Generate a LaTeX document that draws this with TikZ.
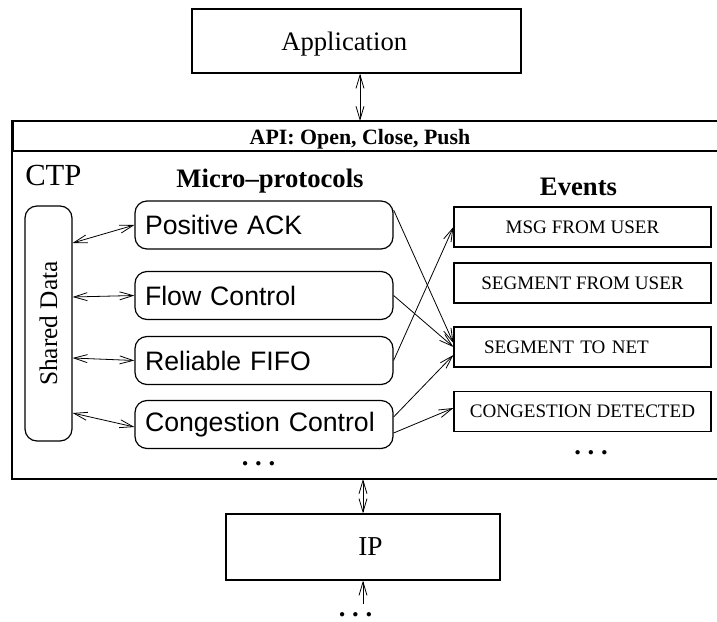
\documentclass[tikz,border=0pt]{standalone}
\usepackage{fontspec}
\setmainfont{Liberation Serif}
\newfontfamily\helv{Liberation Sans}
\usepackage{tikz}
\usetikzlibrary{arrows.meta,calc}
\usetikzlibrary{positioning}

\tikzset{
  plainbox/.style={draw, line width=1pt, inner sep=0pt},
  microbox/.style={draw, line width=0.9pt, rounded corners=9pt, minimum height=36pt,
    text width=178.5pt, align=left, inner xsep=7.5pt, inner ysep=0pt, font=\helv\fontsize{20}{24}\selectfont},
  eventbox/.style={draw, line width=0.9pt, minimum width=192.75pt, minimum height=30pt,
    inner sep=0pt, font=\fontsize{14.3}{16}\selectfont},
  dotsnode/.style={anchor=base, inner sep=0pt, font=\bfseries\fontsize{20}{24}\selectfont},
  biarrow/.style={line width=0.6pt, {Straight Barb[length=10pt,width=6pt]}-{Straight Barb[length=10pt,width=6pt]}},
  onearrow/.style={line width=0.6pt, -{Straight Barb[length=10pt,width=6pt]}},
}

\begin{document}
\begin{tikzpicture}[x=0.75pt,y=0.75pt,yscale=-1,xscale=1]
  \useasboundingbox (0,0) rectangle (717,621);
  \clip (0,0) rectangle (717,621);

  %Shape: Rectangle [CTP frame]
  \draw [line width=1.5pt] (12,121) rectangle (730,479);
  \draw [line width=1pt] (12,151) -- (730,151);
  \draw [line width=1pt] (13.5,121) -- (13.5,151);
  \coordinate (apitop) at (360,121);
  \coordinate (ctpbot) at (363,479);
  \coordinate (below) at (363,604);

  % Boxes
  \node [plainbox, minimum width=246.75pt, minimum height=48pt] (app) at (356.5,41) {};
  \node [plainbox, minimum width=205.5pt, minimum height=49.5pt] (ip) at (363,547) {};
  \node [draw, line width=0.9pt, rounded corners=9pt, minimum width=35.25pt, minimum height=176.25pt] (shared) at (48.5,323.5) {};

  \node [microbox] (ack) at (264,225) {Positive ACK};
  \node [microbox] (flow) at (264,295.5) {Flow Control};
  \node [microbox] (fifo) at (264,360.5) {Reliable FIFO};
  \node [microbox] (cong) at (264,424.5) {Congestion Control};

  \node [eventbox] (msg) at (582.5,227) {MSG FROM USER};
  \node [eventbox] (segu) at (582.5,283) {SEGMENT FROM USER};
  \node [eventbox, text width=147.75pt, align=left, inner xsep=22.5pt] (segn) at (582.5,347) {SEGMENT TO NET};
  \node [eventbox] (congd) at (582.5,411.5) {CONGESTION DETECTED};

  % Text Node
  \node [anchor=base west, inner sep=0pt, font=\fontsize{20}{24}\selectfont] (apptext) at (281,50) {Application};
  % Text Node
  \node [anchor=base west, inner sep=0pt, font=\fontsize{20.5}{24}\selectfont] (iptext) at (358,555.5) {IP};
  % Text Node
  \node [rotate=90, font=\fontsize{19}{22}\selectfont] at (shared) {Shared Data};
  % Text Node
  \node [anchor=base, font=\bfseries\fontsize{16.4}{19}\selectfont] (api) at (360,144) {API: Open, Close, Push};
  % Text Node
  \node [anchor=base west, inner sep=0.75pt, font=\fontsize{23}{27}\selectfont] (ctp) at (24,185) {CTP};
  % Text Node
  \node [anchor=base, font=\bfseries\fontsize{20}{24}\selectfont] (mplabel) at (270,187) {Micro--protocols};
  % Text Node
  \node [anchor=base, font=\bfseries\fontsize{20}{24}\selectfont] (evlabel) at (578.5,195) {Events};
  % Text Node
  \node [dotsnode] (dots1) at (258.5,465) {.\ .\ .};
  \node [dotsnode] (dots2) at (591,454) {.\ .\ .};
  \node [dotsnode] (dots3) at (355.5,616) {.\ .\ .};

  % Arrows
  \draw [biarrow] (app.south -| apitop) -- (apitop);
  \draw [biarrow] (ctpbot) -- (ip.north);
  \draw [onearrow] (below) -- (ip.south);

  \draw [biarrow] ($(shared.east)+(0,-80.5)$) -- (ack.west);
  \draw [biarrow] ($(shared.east)+(0,-26.5)$) -- (flow.west);
  \draw [biarrow] ($(shared.east)+(0,34.5)$) -- (fifo.west);
  \draw [biarrow] ($(shared.east)+(0,89.5)$) -- ($(cong.west)+(0,2.5)$);

  \draw [onearrow] ($(ack.east)+(0,-15)$) -- ($(segn.west)+(0,-4)$);
  \draw [onearrow] (flow.east) -- (segn.west);
  \draw [onearrow] (fifo.east) -- (msg.west);
  \draw [onearrow] ($(cong.east)+(0,-7.5)$) -- ($(segn.west)+(0,8)$);
  \draw [onearrow] ($(cong.east)+(0,8.5)$) -- ($(congd.west)+(0,-3.5)$);
\end{tikzpicture}
\end{document}
